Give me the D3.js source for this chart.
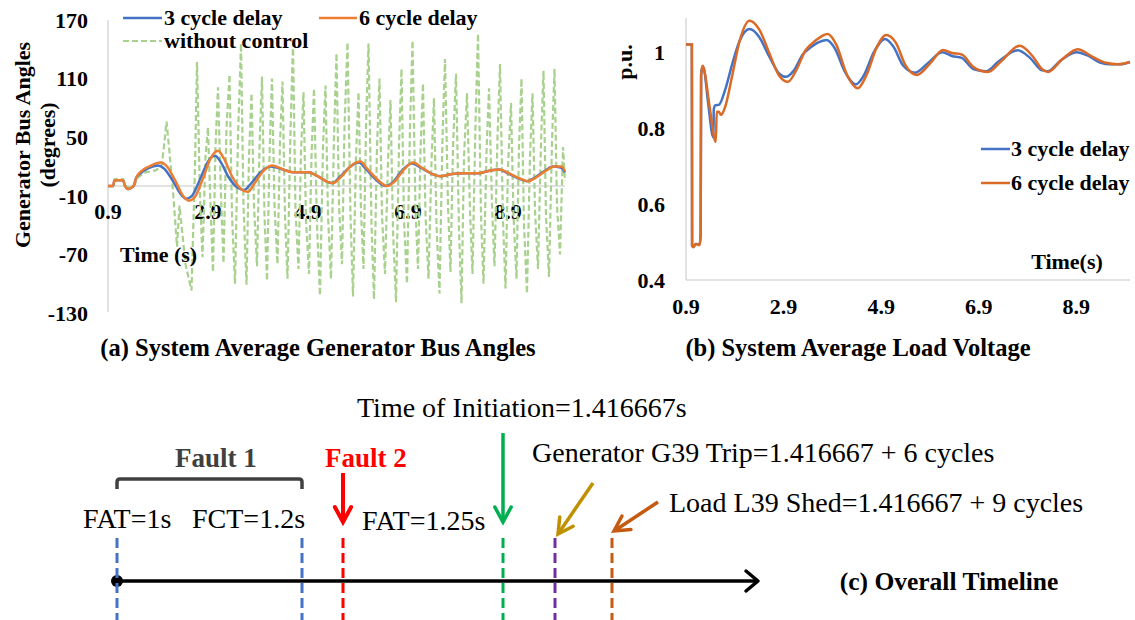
<!DOCTYPE html>
<html>
<head>
<meta charset="utf-8">
<script src="https://cdn.jsdelivr.net/npm/d3@7"></script>
<style>
  html, body { margin: 0; padding: 0; background: #fff; }
  svg { display: block; }
</style>
</head>
<body>
<svg id="chart" width="1135" height="620"></svg>
<script>
// ---------------- DATA ----------------
// (a) System Average Generator Bus Angles (degrees)
const angleTicksX = [0.9, 2.9, 4.9, 6.9, 8.9];
const angleTicksY = [170, 110, 50, -10, -70, -130];
const angle3cycle = [
  [0.9,0],[1.0,0],[1.03,6],[1.2,6],[1.24,0],[1.3,-3],[1.36,-2],[1.42,1],[1.46,8],[1.55,13],
  [1.7,18],[1.9,21],[2.02,18],[2.2,5],[2.35,-8],[2.46,-13],[2.58,-10],[2.75,8],[2.9,25],[3.04,31],
  [3.15,25],[3.3,10],[3.5,-2],[3.62,-4],[3.75,2],[3.95,14],[4.15,20],[4.4,17],[4.6,14],[4.9,14],
  [5.1,10],[5.3,4],[5.38,3],[5.55,10],[5.75,20],[5.92,24],[6.05,18],[6.25,7],[6.45,0],[6.6,4],
  [6.8,17],[6.98,23],[7.15,19],[7.4,12],[7.55,10],[7.75,12],[8.0,13],[8.3,13],[8.55,16],[8.72,17],
  [8.9,13],[9.1,8],[9.28,5],[9.45,9],[9.62,15],[9.8,20],[9.95,19],[10.04,14]
];
const angle6cycle = [
  [0.9,0],[1.0,0],[1.03,6],[1.2,6],[1.24,0],[1.3,-3],[1.36,-2],[1.42,1],[1.47,9],[1.56,15],
  [1.72,20],[1.95,24],[2.08,20],[2.25,5],[2.4,-10],[2.52,-15],[2.64,-11],[2.8,8],[2.95,28],[3.1,36],
  [3.22,28],[3.38,10],[3.56,-3],[3.7,-6],[3.82,2],[4.0,15],[4.18,21],[4.4,17],[4.6,14],[4.9,14],
  [5.1,10],[5.3,4],[5.4,3],[5.57,10],[5.77,21],[5.95,25],[6.08,18],[6.28,7],[6.48,0],[6.62,4],
  [6.82,17],[7.0,24],[7.17,19],[7.4,12],[7.55,10],[7.75,12],[8.0,13],[8.3,13],[8.55,16],[8.74,17],
  [8.92,13],[9.12,8],[9.3,5],[9.47,9],[9.64,15],[9.82,20],[9.97,20],[10.04,15]
];
const angleNoControl = [
  [0.9,0],[1.0,0],[1.04,7],[1.2,7],[1.25,0],[1.34,-2],[1.42,0],[1.5,9],[1.65,14],[1.85,16],
  [1.97,20],[2.03,45],[2.07,66],[2.12,40],[2.2,-5],[2.28,-62],[2.33,-20],[2.38,-45],[2.45,-80],[2.57,-107],
  [2.64,20],[2.68,127],[2.74,-10],[2.79,-73],[2.85,30],[2.9,60],[2.95,-20],[3.0,-88],[3.05,40],[3.1,101],
  [3.16,-10],[3.21,-79],[3.27,60],[3.33,114],[3.38,-30],[3.44,-100],[3.5,50],[3.56,146],[3.61,-20],[3.67,-101],
  [3.72,30],[3.77,95],[3.82,-20],[3.88,-82],[3.93,40],[3.98,112],[4.03,-30],[4.08,-97],[4.13,30],[4.18,110],
  [4.23,-20],[4.29,-80],[4.34,45],[4.39,107],[4.44,-30],[4.49,-95],[4.55,55],[4.6,146],[4.65,-25],[4.71,-85],
  [4.76,35],[4.81,96],[4.86,-35],[4.92,-90],[4.97,30],[5.02,100],[5.08,-40],[5.14,-112],[5.2,40],[5.25,103],
  [5.3,-30],[5.36,-95],[5.42,50],[5.47,136],[5.52,-20],[5.58,-80],[5.63,60],[5.69,147],[5.75,-30],[5.8,-113],
  [5.86,30],[5.91,96],[5.96,-25],[6.01,-85],[6.06,60],[6.11,146],[6.17,-40],[6.22,-116],[6.28,40],[6.33,110],
  [6.38,-30],[6.44,-90],[6.5,25],[6.55,88],[6.6,-45],[6.66,-119],[6.72,40],[6.77,120],[6.82,-35],[6.88,-100],
  [6.94,60],[6.99,149],[7.05,-25],[7.1,-85],[7.15,35],[7.2,105],[7.25,-30],[7.31,-95],[7.37,25],[7.42,90],
  [7.47,-40],[7.53,-110],[7.59,50],[7.64,130],[7.7,-20],[7.75,-88],[7.8,40],[7.86,115],[7.92,-45],[7.97,-120],
  [8.02,30],[8.08,95],[8.14,-25],[8.19,-90],[8.25,65],[8.3,156],[8.36,-30],[8.41,-100],[8.47,35],[8.52,100],
  [8.58,-20],[8.63,-82],[8.69,50],[8.74,125],[8.8,-35],[8.85,-105],[8.9,20],[8.96,85],[9.01,-30],[9.07,-95],
  [9.12,40],[9.17,110],[9.22,-40],[9.28,-110],[9.34,30],[9.39,95],[9.44,-25],[9.5,-85],[9.56,45],[9.61,118],
  [9.66,-30],[9.72,-93],[9.78,45],[9.83,120],[9.88,-20],[9.94,-70],[10.0,40],[10.04,5]
];

// (b) System Average Load Voltage (p.u.)
const voltTicksX = [0.9, 2.9, 4.9, 6.9, 8.9];
const voltTicksY = [1, 0.8, 0.6, 0.4];
const volt3cycle = [
  [0.9,1.02],[1.02,1.02],[1.025,0.49],[1.05,0.488],[1.1,0.495],[1.18,0.494],[1.2,0.52],[1.21,0.94],[1.24,0.962],[1.27,0.955],
  [1.35,0.87],[1.46,0.776],[1.47,0.85],[1.5,0.86],[1.58,0.862],[1.7,0.9],[1.85,0.97],[2.0,1.03],[2.2,1.061],[2.4,1.04],
  [2.6,0.99],[2.8,0.945],[2.95,0.935],[3.1,0.95],[3.3,0.995],[3.45,1.012],[3.6,1.025],[3.78,1.032],[3.95,1.01],[4.15,0.95],
  [4.38,0.915],[4.55,0.94],[4.75,1.0],[4.98,1.035],[5.15,1.015],[5.35,0.965],[5.6,0.946],[5.85,0.97],[6.15,1.0],[6.35,0.99],
  [6.55,0.985],[6.8,0.955],[7.05,0.95],[7.3,0.975],[7.7,1.005],[7.95,0.985],[8.2,0.952],[8.32,0.95],[8.55,0.975],[8.9,1.0],
  [9.15,0.99],[9.4,0.972],[9.6,0.968],[9.8,0.968],[10.0,0.974]
];
const volt6cycle = [
  [0.9,1.02],[1.02,1.02],[1.025,0.49],[1.05,0.486],[1.1,0.495],[1.18,0.492],[1.2,0.52],[1.21,0.94],[1.24,0.964],[1.27,0.955],
  [1.38,0.86],[1.51,0.764],[1.53,0.843],[1.57,0.843],[1.62,0.835],[1.7,0.855],[1.85,0.94],[2.0,1.03],[2.2,1.083],[2.4,1.06],
  [2.6,1.0],[2.8,0.94],[2.99,0.922],[3.15,0.95],[3.35,1.005],[3.55,1.03],[3.8,1.048],[3.98,1.02],[4.2,0.94],[4.42,0.905],
  [4.6,0.94],[4.8,1.01],[5.0,1.045],[5.2,1.025],[5.4,0.965],[5.63,0.94],[5.9,0.97],[6.17,1.006],[6.35,0.998],[6.55,0.994],
  [6.8,0.96],[7.09,0.948],[7.35,0.975],[7.74,1.017],[8.0,0.99],[8.2,0.955],[8.32,0.948],[8.6,0.98],[8.93,1.008],[9.2,0.99],
  [9.5,0.972],[9.75,0.968],[10.0,0.974]
];

// (c) Overall Timeline events (seconds)
const eventTimes = [1.0, 1.2, 1.25, 1.416667, 1.516667, 1.566667];
const eventColors = ["#4472C4", "#4472C4", "#FF0000", "#00B050", "#7030A0", "#C55A11"];

// ---------------- DRAW ----------------
const FONT = "'Liberation Serif', 'DejaVu Serif', serif";
const svg = d3.select("#chart").attr("font-family", FONT).style("font-family", FONT);
svg.append("rect").attr("width", 1135).attr("height", 620).attr("fill", "#fff");

const C = { blue: "#4472C4", orange: "#ED7D31", orangeB: "#DA6A26", green: "#A9D18E", axis: "#D9D9D9" };

// ===== Panel (a) =====
const xa = d3.scaleLinear().domain([0.9, 10.04]).range([108, 565]);
const ya = d3.scaleLinear().domain([-130, 170]).range([313, 20]);
const ga = svg.append("g");

ga.append("line").attr("x1", xa(0.9)).attr("x2", xa(0.9)).attr("y1", ya(170)).attr("y2", ya(-129))
  .attr("stroke", C.axis).attr("stroke-width", 1.5);
ga.append("line").attr("x1", xa(0.9)).attr("x2", xa(10.04)).attr("y1", ya(0)).attr("y2", ya(0))
  .attr("stroke", C.axis).attr("stroke-width", 1.5);

ga.selectAll(".yta").data(angleTicksY).join("text")
  .attr("x", 88).attr("y", d => ya(d)).attr("dy", "0.35em")
  .attr("text-anchor", "end").attr("font-size", 22).attr("font-weight", "bold").text(d => d);
ga.selectAll(".xta").data(angleTicksX).join("text")
  .attr("x", d => xa(d)).attr("y", 219)
  .attr("text-anchor", "middle").attr("font-size", 22).attr("font-weight", "bold").text(d => d.toFixed(1));

const lineA = d3.line().x(d => xa(d[0])).y(d => ya(d[1])).curve(d3.curveMonotoneX);
ga.append("path").datum(angleNoControl).attr("d", d3.line().x(d => xa(d[0])).y(d => ya(d[1])))
  .attr("fill", "none").attr("stroke", C.green).attr("stroke-width", 2.2).attr("stroke-dasharray", "6,3");
ga.append("path").datum(angle3cycle).attr("d", lineA)
  .attr("fill", "none").attr("stroke", C.blue).attr("stroke-width", 2.5);
ga.append("path").datum(angle6cycle).attr("d", lineA)
  .attr("fill", "none").attr("stroke", C.orange).attr("stroke-width", 2.5);

// legend (a)
ga.append("line").attr("x1", 123).attr("x2", 162).attr("y1", 18).attr("y2", 18).attr("stroke", C.blue).attr("stroke-width", 2.5);
ga.append("text").attr("x", 164).attr("y", 25).attr("font-size", 22).attr("font-weight", "bold").text("3 cycle delay");
ga.append("line").attr("x1", 319).attr("x2", 357).attr("y1", 18).attr("y2", 18).attr("stroke", C.orange).attr("stroke-width", 2.5);
ga.append("text").attr("x", 359).attr("y", 25).attr("font-size", 22).attr("font-weight", "bold").text("6 cycle delay");
ga.append("line").attr("x1", 123).attr("x2", 162).attr("y1", 41).attr("y2", 41).attr("stroke", C.green).attr("stroke-width", 2.2).attr("stroke-dasharray", "6,3");
ga.append("text").attr("x", 164).attr("y", 48).attr("font-size", 22).attr("font-weight", "bold").text("without control");

// axis titles (a)
ga.append("text").attr("transform", "translate(30,145) rotate(-90)").attr("text-anchor", "middle")
  .attr("font-size", 22).attr("font-weight", "bold").text("Generator Bus Angles");
ga.append("text").attr("transform", "translate(55,145) rotate(-90)").attr("text-anchor", "middle")
  .attr("font-size", 22).attr("font-weight", "bold").text("(degrees)");
ga.append("text").attr("x", 120).attr("y", 262).attr("font-size", 22).attr("font-weight", "bold").text("Time (s)");
ga.append("text").attr("x", 318).attr("y", 356).attr("text-anchor", "middle")
  .attr("font-size", 24.5).attr("font-weight", "bold").text("(a) System Average Generator Bus Angles");

// ===== Panel (b) =====
const xb = d3.scaleLinear().domain([0.9, 10.0]).range([686, 1130]);
const yb = d3.scaleLinear().domain([0.4, 1.09]).range([280, 18]);
const gb = svg.append("g");

gb.append("line").attr("x1", xb(0.9)).attr("x2", xb(0.9)).attr("y1", yb(1.09)).attr("y2", yb(0.4))
  .attr("stroke", C.axis).attr("stroke-width", 1.5);
gb.append("line").attr("x1", xb(0.9)).attr("x2", xb(10.0)).attr("y1", yb(0.4)).attr("y2", yb(0.4))
  .attr("stroke", C.axis).attr("stroke-width", 1.5);

gb.selectAll(".ytb").data(voltTicksY).join("text")
  .attr("x", 665).attr("y", d => yb(d)).attr("dy", "0.35em")
  .attr("text-anchor", "end").attr("font-size", 22).attr("font-weight", "bold").text(d => d);
gb.selectAll(".xtb").data(voltTicksX).join("text")
  .attr("x", d => xb(d)).attr("y", 314)
  .attr("text-anchor", "middle").attr("font-size", 22).attr("font-weight", "bold").text(d => d.toFixed(1));

const lineB = d3.line().x(d => xb(d[0])).y(d => yb(d[1])).curve(d3.curveMonotoneX);
gb.append("path").datum(volt3cycle).attr("d", lineB)
  .attr("fill", "none").attr("stroke", C.blue).attr("stroke-width", 2.5);
gb.append("path").datum(volt6cycle).attr("d", lineB)
  .attr("fill", "none").attr("stroke", C.orangeB).attr("stroke-width", 2.5);

gb.append("line").attr("x1", 981).attr("x2", 1010).attr("y1", 149).attr("y2", 149).attr("stroke", C.blue).attr("stroke-width", 2.5);
gb.append("text").attr("x", 1011).attr("y", 156).attr("font-size", 22).attr("font-weight", "bold").text("3 cycle delay");
gb.append("line").attr("x1", 981).attr("x2", 1010).attr("y1", 183).attr("y2", 183).attr("stroke", C.orangeB).attr("stroke-width", 2.5);
gb.append("text").attr("x", 1011).attr("y", 190).attr("font-size", 22).attr("font-weight", "bold").text("6 cycle delay");

gb.append("text").attr("x", 1067).attr("y", 269).attr("text-anchor", "middle")
  .attr("font-size", 22).attr("font-weight", "bold").text("Time(s)");
gb.append("text").attr("transform", "translate(632,62) rotate(-90)").attr("text-anchor", "middle")
  .attr("font-size", 22).attr("font-weight", "bold").text("p.u.");
gb.append("text").attr("x", 858).attr("y", 356).attr("text-anchor", "middle")
  .attr("font-size", 24.5).attr("font-weight", "bold").text("(b) System Average Load Voltage");

// ===== Panel (c) timeline =====
const xt = d3.scaleLinear().domain(eventTimes).range([117, 302, 343, 503, 555, 612]);
const gc = svg.append("g");
const TL = 581;

gc.append("line").attr("x1", xt(1.0)).attr("x2", 757).attr("y1", TL).attr("y2", TL)
  .attr("stroke", "#000").attr("stroke-width", 3.5);
gc.append("path").attr("d", `M746,571 L758,${TL} L746,591`).attr("fill", "none")
  .attr("stroke", "#000").attr("stroke-width", 3.5).attr("stroke-linejoin", "round").attr("stroke-linecap", "round");
gc.append("circle").attr("cx", xt(1.0)).attr("cy", TL).attr("r", 6).attr("fill", "#000");

gc.selectAll(".ev").data(eventTimes).join("line")
  .attr("x1", d => xt(d)).attr("x2", d => xt(d)).attr("y1", 538).attr("y2", 622)
  .attr("stroke", (d, i) => eventColors[i]).attr("stroke-width", 3).attr("stroke-dasharray", "10,5");

// bracket for Fault 1
gc.append("path").attr("d", `M${xt(1.0)},489 L${xt(1.0)},482 Q${xt(1.0)},479 ${xt(1.0)+3},479 L${xt(1.2)-3},479 Q${xt(1.2)},479 ${xt(1.2)},482 L${xt(1.2)},489`)
  .attr("fill", "none").attr("stroke", "#404040").attr("stroke-width", 3.5);

function arrow(x1, y1, x2, y2, color, w) {
  const a = Math.atan2(y2 - y1, x2 - x1);
  const L = 17, s = 0.5;
  const p1 = [x2 - L * Math.cos(a - s), y2 - L * Math.sin(a - s)];
  const p2 = [x2 - L * Math.cos(a + s), y2 - L * Math.sin(a + s)];
  gc.append("line").attr("x1", x1).attr("y1", y1).attr("x2", x2 - 1.5 * Math.cos(a)).attr("y2", y2 - 1.5 * Math.sin(a))
    .attr("stroke", color).attr("stroke-width", w);
  gc.append("path").attr("d", `M${p1[0]},${p1[1]} L${x2},${y2} L${p2[0]},${p2[1]}`)
    .attr("fill", "none").attr("stroke", color).attr("stroke-width", w)
    .attr("stroke-linejoin", "miter").attr("stroke-linecap", "round");
}
arrow(xt(1.25), 473, xt(1.25), 522, "#FF0000", 4);
arrow(xt(1.416667), 433, xt(1.416667), 522, "#00B050", 3.5);
arrow(593, 483, 558, 534, "#BF9000", 3.5);
arrow(658, 502, 614, 531, "#C55A11", 3.5);

const tText = (x, y, s, opts = {}) => gc.append("text").attr("x", x).attr("y", y)
  .attr("font-size", opts.size || 28).attr("font-weight", opts.bold ? "bold" : "normal")
  .attr("fill", opts.color || "#000").attr("text-anchor", opts.anchor || "start").text(s);

tText(216, 467, "Fault 1", { bold: true, color: "#404040", anchor: "middle", size: 27 });
tText(366, 467, "Fault 2", { bold: true, color: "#FF0000", anchor: "middle", size: 27 });
tText(83, 528, "FAT=1s");
tText(192, 528, "FCT=1.2s");
tText(362, 530, "FAT=1.25s");
tText(357, 417, "Time of Initiation=1.416667s");
tText(532, 462, "Generator G39 Trip=1.416667 + 6 cycles");
tText(669, 512, "Load L39 Shed=1.416667 + 9 cycles");
tText(949, 590, "(c) Overall Timeline", { bold: true, size: 25.5, anchor: "middle" });
</script>
</body>
</html>
